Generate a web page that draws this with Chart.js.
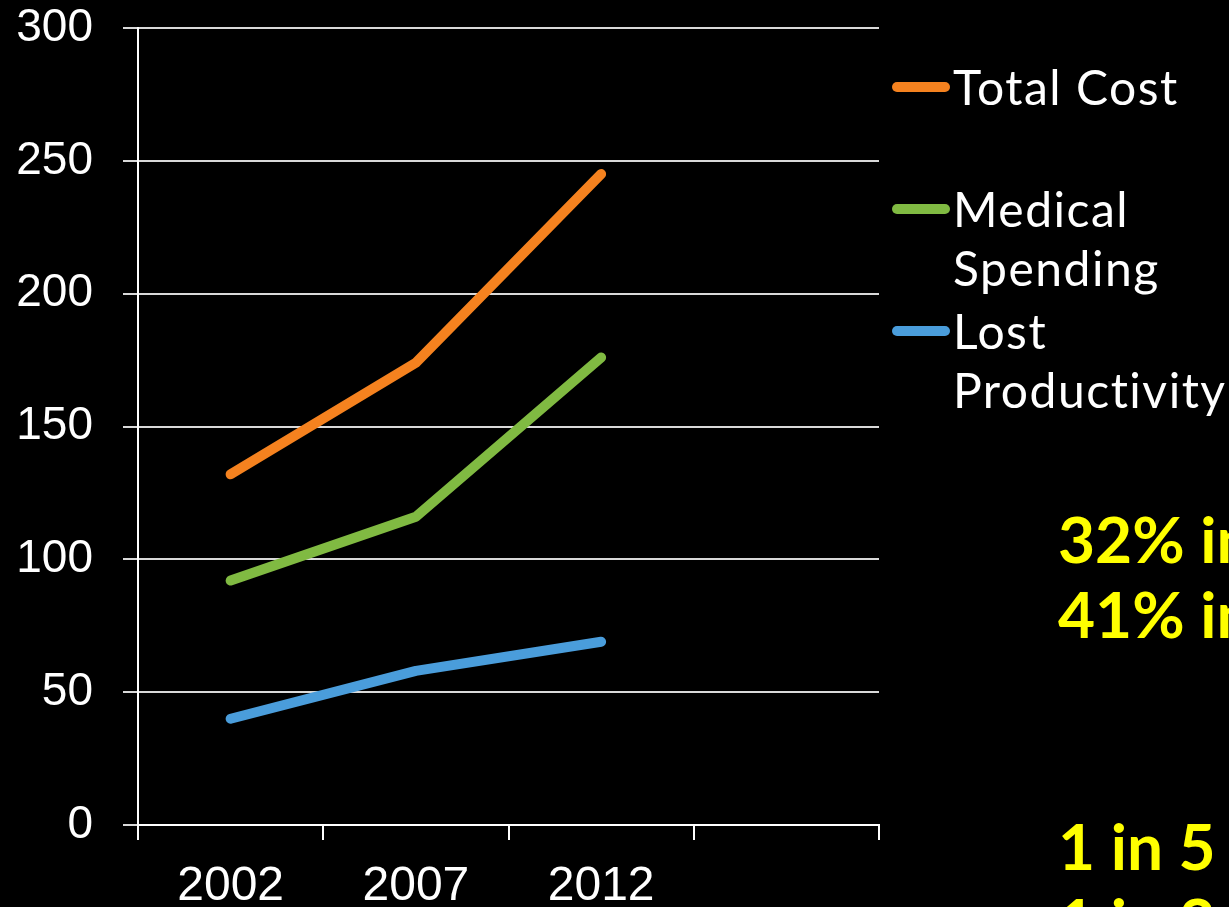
<!DOCTYPE html>
<html>
<head>
<meta charset="utf-8">
<script src="https://cdn.jsdelivr.net/npm/chart.js@4/dist/chart.umd.min.js"></script>
<style>
  html, body { margin: 0; padding: 0; background: #000; overflow: hidden; }
  #wrap { position: relative; width: 1229px; height: 907px; overflow: hidden; }
  #chart { position: absolute; left: 0; top: 0; }
  #legend { position: absolute; left: 892px; top: 57px; }
  .item { position: relative; height: 122px; }
  .swatch { position: absolute; left: 0; top: 25px; width: 58px; height: 10px; border-radius: 5px; }
  .label { position: absolute; left: 61px; top: 0; width: 276px; color: #fff; letter-spacing: 1.5px;
           font: 400 48px/59px Lato, "Open Sans", sans-serif; }
  .note { position: absolute; left: 1058px; color: #ffff00; white-space: nowrap;
          font: 700 64px/75px Lato, "Open Sans", sans-serif; }
</style>
</head>
<body>
<div id="wrap">
  <canvas id="chart" width="1229" height="907"></canvas>
  <div id="legend"></div>
  <div class="note" style="top:501px">32% increase<br>41% increase</div>
  <div class="note" style="top:808px">1 in 5<br>1 in 3</div>
</div>
<script>
const years = ["2002", "2007", "2012", ""];
const seriesNames = ["Total Cost", "Medical Spending", "Lost Productivity"];
const totalCost = [132, 174, 245];
const medicalSpending = [92, 116, 176];
const lostProductivity = [40, 58, 69];
const seriesColors = ["#f5821f", "#80ba42", "#4a9ddb"];
const yTicks = [0, 50, 100, 150, 200, 250, 300];

const seriesData = [totalCost, medicalSpending, lostProductivity];

const ctx = document.getElementById("chart").getContext("2d");

new Chart(ctx, {
  type: "line",
  data: {
    labels: years,
    datasets: seriesNames.map((name, i) => ({
      label: name,
      data: seriesData[i],
      borderColor: seriesColors[i],
      backgroundColor: seriesColors[i],
      borderWidth: 10,
      borderCapStyle: "round",
      borderJoinStyle: "round",
      pointRadius: 0,
      tension: 0
    }))
  },
  options: {
    responsive: false,
    animation: false,
    layout: { padding: { top: 28, right: 350, left: 0, bottom: 0 } },
    plugins: { legend: { display: false }, tooltip: { enabled: false } },
    scales: {
      x: {
        offset: true,
        grid: { offset: true, drawOnChartArea: false, drawTicks: true, tickLength: 15, color: "#ffffff", lineWidth: 2 },
        border: { display: true, color: "#ffffff", width: 2 },
        ticks: { color: "#ffffff", padding: 18, maxRotation: 0, font: { family: "'Liberation Sans Narrow', 'Liberation Sans', sans-serif", size: 48 } },
        afterFit: s => { s.height = 82; s.paddingLeft = 0; s.paddingRight = 0; }
      },
      y: {
        min: 0,
        max: 300,
        afterBuildTicks: s => { s.ticks = yTicks.map(v => ({ value: v })); },
        grid: { color: "#d9d9d9", lineWidth: 2, tickLength: 15 },
        border: { display: true, color: "#ffffff", width: 2 },
        ticks: { color: "#ffffff", padding: 30, font: { family: "'Liberation Sans', Arial, sans-serif", size: 46 } },
        afterFit: s => { s.width = 138; s.paddingTop = 0; s.paddingBottom = 0; }
      }
    }
  }
});

const legend = document.getElementById("legend");
seriesNames.forEach((name, i) => {
  const item = document.createElement("div");
  item.className = "item";
  const sw = document.createElement("div");
  sw.className = "swatch";
  sw.style.background = seriesColors[i];
  const lb = document.createElement("div");
  lb.className = "label";
  lb.textContent = name;
  item.appendChild(sw);
  item.appendChild(lb);
  legend.appendChild(item);
});
</script>
</body>
</html>
